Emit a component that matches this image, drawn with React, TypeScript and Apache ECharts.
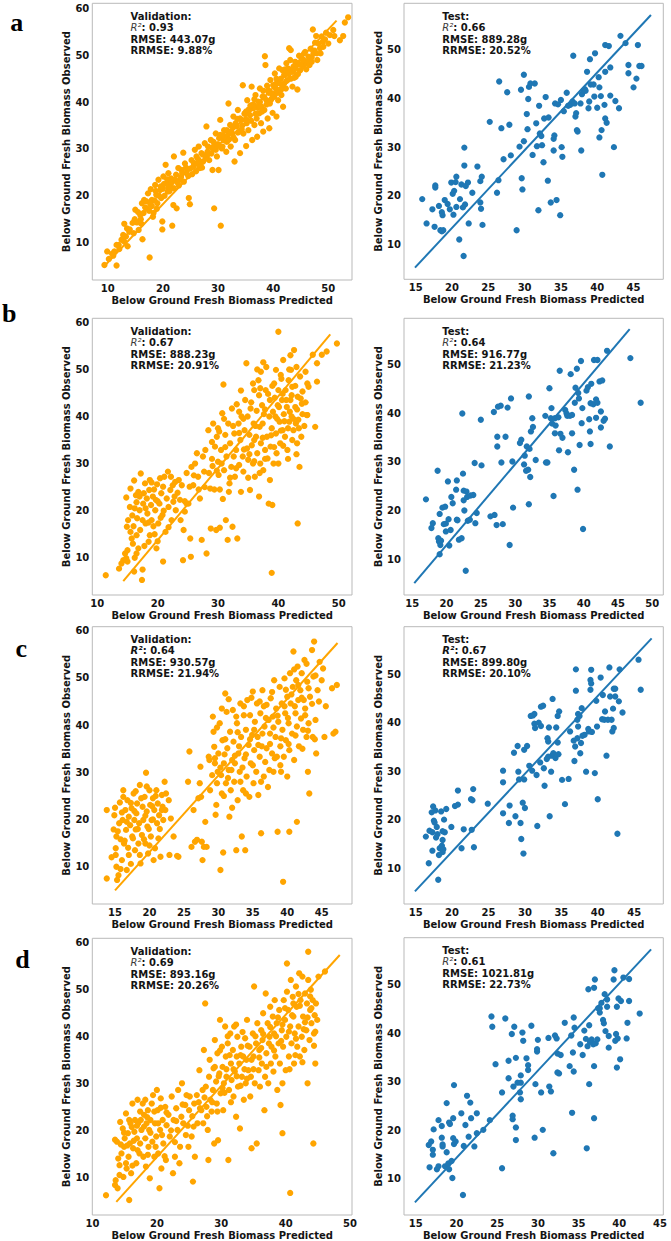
import React, { useEffect, useRef } from 'react';
import * as echarts from 'echarts';

// ---------- DATA ----------
const valA: number[][] = [
  [9.9,8.1],[9.4,5.2],[11.6,5.1],[10.8,7.6],[11.2,8.1],[11.6,9.5],[12.1,8.6],[13.0,14.0],[12.5,10.6],[13.3,11.3],[13.6,9.2],[13.9,12.3],[14.7,12.0],[15.0,17.0],[15.3,14.3],[15.6,12.7],[15.9,15.9],[16.2,18.4],[16.5,16.3],[16.6,19.1],[16.3,10.7],[17.1,17.3],[17.3,20.5],[17.6,6.8],[17.8,21.4],[18.0,19.1],[18.2,15.5],[18.3,16.3],[18.6,22.3],[18.8,20.2],[19.0,18.4],[19.2,23.4],[19.5,21.2],[19.7,19.5],[19.9,12.8],[19.9,14.5],[20.1,24.1],[20.5,26.6],[20.7,22.7],[20.9,20.9],[21.0,24.8],[21.3,22.0],[21.5,23.7],[21.7,13.6],[21.9,18.0],[22.0,28.4],[22.2,23.4],[22.5,17.3],[22.8,25.9],[23.1,23.4],[23.4,25.5],[23.7,29.2],[24.0,26.9],[24.3,24.8],[24.7,19.5],[24.9,18.2],[25.2,27.6],[25.5,26.2],[25.8,29.8],[26.1,28.4],[26.5,30.5],[26.7,25.9],[27.0,29.1],[27.3,27.3],[27.6,31.2],[27.9,34.8],[28.1,29.4],[28.4,27.6],[28.7,31.9],[29.0,25.5],[29.2,30.5],[29.3,17.3],[29.6,33.3],[29.8,28.4],[30.1,25.5],[30.2,32.3],[30.4,36.2],[30.5,13.6],[30.7,30.1],[31.0,31.9],[31.1,34.0],[31.5,29.4],[31.6,31.5],[31.9,39.7],[32.2,35.1],[32.3,30.5],[32.6,33.3],[32.8,36.9],[33.0,27.3],[33.1,31.9],[33.4,34.8],[33.6,38.3],[33.9,33.7],[34.0,29.1],[34.3,36.2],[34.5,43.6],[34.6,33.3],[34.9,37.6],[35.1,30.6],[35.2,35.5],[35.3,40.4],[35.5,34.0],[35.8,37.2],[36.1,43.3],[36.2,31.9],[36.4,38.7],[36.6,35.1],[36.8,41.5],[37.0,36.5],[37.1,32.6],[37.3,40.1],[37.5,37.6],[37.6,42.9],[37.8,35.5],[37.9,39.0],[38.1,41.2],[38.2,33.7],[38.4,38.3],[38.5,49.8],[38.6,47.9],[38.8,40.4],[39.0,36.5],[39.1,42.6],[39.3,34.4],[39.4,39.7],[39.5,44.7],[39.7,41.9],[39.9,37.7],[40.0,43.6],[40.2,41.2],[40.3,46.1],[40.5,42.9],[40.6,36.9],[40.8,44.3],[40.9,40.4],[41.1,47.2],[41.2,42.6],[41.4,45.0],[41.5,41.5],[41.7,46.8],[41.8,39.0],[42.0,44.0],[42.1,45.8],[42.3,42.9],[42.4,48.3],[42.6,44.7],[42.7,47.2],[42.9,51.5],[43.1,49.0],[43.2,51.1],[43.4,46.5],[43.5,43.3],[43.7,47.6],[44.0,48.6],[44.1,45.4],[44.3,47.9],[44.4,42.7],[44.6,48.3],[44.9,46.8],[45.2,49.3],[45.5,47.6],[45.6,50.4],[45.8,48.6],[46.1,48.3],[46.4,49.7],[46.6,47.9],[47.0,48.6],[47.2,55.5],[47.3,50.4],[47.8,54.1],[47.9,50.4],[48.2,52.5],[48.5,51.5],[48.8,54.0],[49.0,52.9],[49.1,51.8],[49.4,53.4],[50.0,52.5],[50.3,54.3],[51.1,54.1],[53.6,58.1],[52.1,53.2],[53.0,57.0],[50.9,55.4],[52.7,54.1],
  [15.5,16.5],[16.0,15.0],[16.8,17.5],[17.0,18.8],[17.5,16.8],[18.0,17.8],[18.5,19.0],[18.9,17.2],[19.3,20.0],[19.6,22.0],[20.0,21.5],[20.3,20.0],[20.8,23.5],[21.2,21.0],[21.6,22.8],[22.0,21.6],[22.4,24.5],[22.9,22.2],[23.3,24.0],[23.8,23.0],[24.2,26.0],[24.6,24.2],[25.0,25.8],[25.6,27.0],[26.0,25.2],[26.4,27.8],[26.9,27.0],[27.2,28.8],[27.8,28.0],[28.2,30.5],[28.8,29.0],[29.2,31.5],[29.6,29.8],[30.0,31.0],[30.4,33.0],[30.8,30.5],[31.2,32.5],[31.6,34.0],[32.0,32.0],[32.4,33.8],[32.8,32.5],[33.2,35.5],[33.6,33.5],[34.0,36.5],[34.4,35.0],[34.8,37.5],[35.2,36.2],[35.6,38.5],[36.0,36.0],[36.4,39.5],[36.8,37.5],[37.2,38.8],[37.6,40.0],[38.0,38.0],[38.4,41.0],[38.8,39.5],[39.2,42.0],[39.6,40.5],[40.0,41.8],[40.4,43.8],[40.8,42.0],[41.2,44.0],[41.6,43.0],[42.0,45.8],[42.4,44.5],[42.8,46.0],[43.2,45.0],[43.6,46.5],[44.0,47.2],[44.5,46.0],[45.0,48.0],[45.5,49.0],[46.0,47.0],[46.5,48.8],[47.0,49.6],[47.5,51.0],[48.0,49.0],[12.0,9.5],[13.0,10.2],[14.0,12.8],[14.5,14.2],[11.0,7.2],[10.2,6.5],
  [20.2,22.5],[21.0,21.8],[22.6,22.9],[23.5,24.8],[24.4,25.5],[25.3,24.6],[26.2,26.8],[27.1,26.0],[28.0,28.6],[28.9,30.2],[29.9,30.6],[30.9,32.9],[31.8,33.0],[32.7,34.6],[33.5,36.4],[34.3,34.2],[35.1,38.0],[35.9,39.3],[36.6,40.6],[37.4,39.1],[38.2,42.4],[38.9,43.5],[39.8,40.8],[40.6,45.0],[41.4,42.6],[42.2,47.0],[43.0,46.9],[43.8,45.2],[44.7,49.9],[45.8,50.7],[46.8,51.4],[47.6,52.7],[48.6,50.4],[49.6,54.8],[17.7,18.3],[18.7,21.0],[16.1,14.0],[14.9,15.0],[13.5,13.0],[12.8,11.6]
];
const testA: number[][] = [
  [15.9,19.3],[16.5,14.3],[17.3,17.2],[17.6,13.6],[17.7,22.1],[17.7,21.7],[18.2,17.9],[18.4,12.9],[18.6,12.7],[18.8,12.9],[18.7,16.0],[18.6,16.6],[19.0,19.1],[19.4,18.3],[19.7,17.2],[19.9,22.7],[20.1,20.4],[20.2,16.1],[20.3,21.0],[20.5,22.8],[20.6,23.9],[20.6,17.7],[21.1,19.3],[21.0,11.0],[21.3,22.3],[21.5,17.6],[21.6,7.6],[21.7,29.9],[21.7,26.2],[21.8,18.2],[21.9,22.0],[22.2,22.7],[22.3,14.3],[22.8,20.6],[23.5,26.0],[23.9,23.0],[23.9,18.6],[24.0,17.3],[24.1,23.9],[24.2,14.0],[25.2,35.2],[26.2,20.6],[26.4,23.2],[26.5,43.5],[26.8,33.9],[27.1,27.5],[27.6,41.3],[27.9,34.6],[28.1,28.3],[28.9,12.9],[29.3,30.1],[29.5,41.8],[29.6,23.6],[29.7,21.3],[29.9,31.2],[29.9,44.9],[30.3,36.8],[30.4,33.7],[30.5,39.9],[30.6,42.4],[30.8,43.1],[31.1,28.4],[31.4,43.1],[31.6,34.9],[31.7,30.2],[31.9,17.0],[32.0,38.5],[32.1,32.8],[32.3,32.3],[32.4,30.4],[32.6,26.9],[32.7,35.9],[32.9,40.3],[33.2,23.1],[33.3,36.1],[33.6,18.6],[34.0,29.3],[34.0,31.7],[34.1,32.4],[34.2,39.0],[34.4,19.1],[34.6,38.8],[34.9,16.0],[35.0,39.7],[35.1,30.0],[35.2,28.0],[35.4,37.4],[35.8,41.2],[36.0,38.5],[36.3,38.7],[36.6,39.4],[36.7,48.8],[36.9,39.0],[37.0,36.3],[37.1,37.0],[37.2,33.5],[37.3,33.2],[37.7,39.0],[37.8,29.3],[37.9,40.9],[38.1,41.6],[38.3,41.9],[38.4,41.6],[38.6,45.5],[38.8,38.0],[38.9,39.4],[39.0,48.1],[39.1,42.9],[39.5,42.9],[39.6,40.4],[39.7,49.3],[40.0,38.1],[40.2,44.4],[40.3,42.3],[40.3,32.0],[40.5,40.5],[40.6,33.5],[40.7,24.3],[41.0,38.7],[41.1,45.5],[41.1,35.9],[41.1,51.0],[41.3,35.0],[41.6,50.8],[41.8,46.4],[41.8,40.6],[42.3,30.0],[42.5,39.5],[43.0,38.0],[43.2,52.9],[43.9,51.4],[44.3,46.9],[44.3,45.2],[45.0,42.3],[45.4,44.1],[45.6,51.0],[45.8,46.7],[46.1,46.7]
];
const valB: number[][] = [
  [11.4,6.3],[13.6,7.7],[14.8,22.8],[14.9,16.6],[15.1,18.0],[15.0,11.6],[14.8,9.9],[15.0,9.2],[15.4,20.8],[15.5,24.7],[15.7,14.1],[15.9,13.0],[16.0,16.7],[16.1,26.4],[16.1,7.1],[16.2,20.5],[16.4,23.3],[16.5,10.9],[16.5,14.8],[16.6,18.4],[16.8,24.0],[17.0,20.1],[17.1,15.9],[17.2,27.9],[17.4,5.3],[17.5,7.5],[17.5,18.0],[17.6,21.5],[17.7,23.7],[17.9,25.8],[18.0,17.3],[18.2,22.6],[18.3,19.4],[18.5,13.4],[18.6,24.4],[18.7,14.8],[18.7,26.5],[18.9,21.2],[19.0,18.0],[19.2,23.0],[19.3,16.7],[19.4,24.5],[19.6,20.1],[19.7,22.3],[19.8,12.0],[19.9,25.6],[20.1,17.3],[20.3,21.5],[20.4,26.9],[20.6,23.7],[20.8,19.1],[20.9,9.2],[20.9,25.1],[21.1,27.2],[21.3,15.5],[21.5,22.6],[21.7,28.3],[21.8,20.8],[22.1,24.4],[22.2,27.2],[22.3,18.0],[22.5,25.4],[22.6,21.9],[22.9,26.1],[23.0,20.1],[23.3,23.8],[23.7,22.3],[24.0,25.4],[24.2,9.5],[24.3,15.9],[24.5,19.8],[24.8,21.5],[25.1,21.5],[25.3,25.1],[25.4,14.1],[25.5,10.2],[25.6,29.3],[25.9,25.4],[26.2,30.0],[26.5,32.2],[26.7,27.2],[27.0,22.6],[27.3,13.8],[27.5,31.5],[27.7,28.3],[27.9,32.9],[28.1,10.9],[28.4,37.1],[28.7,24.7],[28.8,16.2],[29.0,34.6],[29.1,29.5],[29.2,38.5],[29.4,24.5],[29.5,33.6],[29.7,15.9],[29.8,35.7],[30.0,30.4],[30.1,27.6],[30.2,36.8],[30.3,24.5],[30.3,16.4],[30.5,32.9],[30.7,40.7],[30.9,46.8],[31.0,28.6],[31.2,36.1],[31.3,18.0],[31.4,31.5],[31.6,13.8],[31.7,38.5],[31.9,25.8],[32.0,34.3],[32.2,29.3],[32.3,41.7],[32.4,16.6],[32.6,31.5],[32.7,36.4],[32.8,27.2],[33.0,32.9],[33.1,42.6],[33.2,14.1],[33.4,38.5],[33.5,29.7],[33.7,35.0],[33.8,24.0],[33.9,40.0],[34.1,31.5],[34.2,28.3],[34.4,37.1],[34.5,43.5],[34.7,51.3],[34.8,33.2],[34.9,40.0],[35.0,30.8],[35.2,36.1],[35.3,24.4],[35.4,41.7],[35.6,33.9],[35.8,30.0],[35.9,38.5],[36.0,45.6],[36.1,27.2],[36.3,35.7],[36.4,41.2],[36.5,32.2],[36.7,47.7],[36.8,23.0],[36.9,37.8],[37.0,30.0],[37.1,34.3],[37.1,49.5],[37.3,42.4],[37.4,38.5],[37.5,28.6],[37.6,40.5],[37.8,32.9],[37.9,45.6],[38.1,35.7],[38.2,31.1],[38.4,21.5],[38.5,40.0],[38.6,43.5],[38.7,33.6],[38.9,37.5],[39.0,21.2],[38.9,6.8],[39.2,30.0],[39.3,47.0],[39.5,40.0],[39.6,36.4],[39.6,49.9],[39.7,32.2],[39.9,42.4],[40.0,45.6],[40.2,38.9],[40.3,34.3],[40.4,48.8],[40.6,43.5],[40.7,37.1],[40.8,52.0],[40.9,40.5],[41.1,35.7],[41.2,45.6],[41.4,42.0],[41.5,32.9],[41.7,47.7],[41.8,38.9],[42.0,43.5],[42.1,49.9],[42.2,40.0],[42.3,46.3],[42.5,37.1],[42.6,54.1],[42.8,42.0],[42.9,38.5],[43.1,34.3],[43.2,44.2],[43.2,17.3],[43.3,39.3],[43.5,29.3],[43.6,48.5],[43.8,35.7],[43.9,42.7],[44.0,45.3],[44.7,40.3],[45.0,46.3],[40.0,58.0],[44.8,47.0],[44.8,40.3],[45.7,53.1],[46.4,47.4],[47.2,53.1],[46.4,51.3],[48.0,53.8],[46.1,37.8],[16.2,10.0],[14.3,9.5],[14.0,8.8],[14.6,10.9],[49.7,55.5],
  [33.5,36.5],[34.2,39.5],[35.5,43.0],[36.2,38.0],[36.8,44.5],[37.4,35.5],[37.8,41.5],[38.3,44.8],[38.8,36.0],[39.1,41.0],[39.4,44.0],[39.8,39.5],[40.1,42.0],[40.4,37.0],[40.7,44.8],[41.0,39.0],[41.3,43.5],[41.6,37.5],[41.9,41.0],[42.2,44.5],[42.5,39.5],[42.8,46.5],[43.1,41.5],[43.4,37.5],[43.7,43.8],[44.0,40.5],[44.3,38.0],[44.5,43.0],[35.0,27.0],[36.0,30.5],[36.9,28.0],[37.8,31.0],[38.6,26.5],[39.3,33.5],[40.0,30.0],[40.8,33.8],[41.6,31.0],[42.3,35.0],[43.0,32.0],[33.0,29.0],[32.0,27.0],[31.2,33.5],[30.6,30.0],[29.8,28.5],[29.0,31.0],[30.0,37.5],[31.0,39.5],[32.5,38.0],[33.5,41.0],[34.3,33.0],[35.2,32.0],[36.0,35.0],[31.8,24.0],[30.8,22.5],[27.8,25.0],[28.5,28.0],[26.0,27.5],[24.5,22.0],[23.5,26.5],[21.0,20.0],[20.0,22.0],[19.0,26.0],[18.0,20.5],[17.0,23.0],[16.5,21.8],[15.8,19.0],[19.5,15.0],[20.5,18.5],[21.8,16.5],[22.8,23.0],[18.5,17.5],[17.8,12.5],[16.8,12.0],[15.5,15.5],[20.0,13.5],[23.8,18.0],[24.8,28.0],[26.8,24.5],[39.0,46.5],[40.5,48.0],[37.0,46.0],[35.8,47.0],[38.0,50.5],[41.8,50.0],[43.0,50.5],[44.5,49.5],[42.0,53.0],[36.5,50.0],[33.8,45.5],[37.5,51.5]
];
const testB: number[][] = [
  [17.0,22.3],[17.8,16.4],[18.0,17.4],[18.7,28.2],[18.8,14.3],[18.9,13.6],[19.0,19.3],[19.1,12.9],[19.0,11.0],[19.2,13.8],[19.4,20.6],[19.6,17.2],[19.8,20.8],[19.9,15.7],[19.9,17.3],[20.2,26.0],[20.3,18.2],[20.4,12.8],[20.6,16.0],[20.7,22.8],[20.9,21.5],[21.4,24.3],[21.5,26.2],[21.5,18.1],[21.6,18.0],[21.8,14.0],[22.2,14.3],[22.3,40.0],[22.4,27.6],[22.5,24.1],[22.5,22.1],[22.6,20.0],[22.8,7.6],[22.9,23.9],[23.0,22.8],[23.1,17.9],[23.4,18.1],[23.5,23.1],[23.9,23.2],[24.1,29.8],[24.2,17.4],[24.4,19.5],[25.0,38.7],[25.1,29.3],[26.4,18.8],[26.9,40.3],[27.0,19.1],[27.3,17.0],[27.4,35.2],[27.4,33.2],[27.5,41.4],[27.9,41.6],[28.0,29.9],[28.2,17.2],[28.6,35.2],[28.9,41.2],[29.2,12.9],[29.4,43.1],[29.6,30.1],[29.7,20.6],[30.7,33.9],[30.9,34.6],[31.3,29.5],[31.4,31.3],[31.6,28.2],[31.7,33.2],[31.9,28.4],[32.0,43.5],[32.0,21.3],[32.1,32.7],[32.2,26.9],[32.3,36.3],[32.5,39.0],[32.6,37.2],[33.0,30.4],[34.4,39.5],[34.5,29.9],[34.7,29.9],[35.0,45.2],[35.2,39.0],[35.3,41.1],[35.4,37.9],[35.6,23.0],[35.8,39.0],[35.8,35.9],[35.9,37.5],[36.3,39.2],[36.4,32.4],[36.5,48.8],[36.6,35.8],[36.9,35.0],[37.3,40.7],[37.5,40.0],[37.6,39.5],[37.7,32.0],[38.0,39.5],[38.1,48.1],[38.3,39.7],[38.3,35.9],[38.6,28.4],[38.7,42.2],[38.8,45.3],[39.0,49.2],[39.1,24.3],[39.2,44.2],[39.3,43.1],[39.4,33.5],[39.6,50.8],[39.7,38.0],[39.8,41.1],[39.9,16.2],[40.4,44.7],[40.6,45.4],[40.8,38.8],[40.9,36.3],[41.0,33.7],[41.0,42.1],[41.1,46.1],[41.4,41.9],[41.5,51.0],[41.8,39.1],[41.8,42.9],[42.0,51.0],[42.0,42.2],[42.3,46.6],[42.5,40.4],[42.5,37.1],[42.7,46.8],[42.9,38.5],[43.1,38.9],[43.4,52.9],[43.8,33.2],[46.8,51.4],[48.3,42.2]
];
const valC: number[][] = [
  [13.8,22.0],[13.8,7.5],[14.8,17.9],[14.9,20.9],[15.1,13.9],[15.1,12.5],[15.2,16.4],[15.2,10.0],[15.3,7.2],[15.5,8.2],[15.6,19.2],[15.7,23.6],[15.8,15.8],[16.0,11.4],[16.1,19.9],[16.2,26.2],[16.3,14.9],[16.5,22.0],[16.6,17.8],[16.7,9.3],[16.8,24.1],[16.9,14.0],[17.0,20.6],[17.2,18.8],[17.3,10.6],[17.4,22.4],[17.5,16.4],[17.7,25.5],[17.8,19.9],[17.9,13.5],[18.0,17.9],[18.1,21.3],[18.2,23.4],[18.4,14.9],[18.5,19.2],[18.6,27.3],[18.7,10.7],[18.9,16.7],[19.0,22.7],[19.1,19.9],[19.3,24.8],[19.4,14.9],[19.5,29.9],[19.6,21.7],[19.7,18.5],[19.8,12.8],[20.0,26.2],[20.1,23.1],[20.2,16.4],[20.3,19.9],[20.5,24.5],[20.6,11.4],[20.7,22.0],[20.8,13.9],[21.0,26.2],[21.1,19.2],[21.2,23.4],[21.3,16.0],[21.4,20.9],[21.6,12.1],[21.8,25.2],[21.9,22.7],[22.0,19.9],[22.2,28.0],[22.3,22.0],[22.4,25.5],[22.8,24.1],[22.9,12.5],[23.1,20.2],[23.5,16.4],[24.0,12.3],[24.2,12.1],[25.6,28.0],[25.8,34.4],[26.1,14.2],[26.4,22.0],[26.6,15.3],[26.9,15.7],[27.1,24.5],[27.3,27.7],[27.4,31.2],[27.5,24.8],[27.6,15.3],[27.7,11.4],[27.9,14.2],[28.1,19.5],[28.3,14.2],[28.6,33.3],[28.7,32.6],[28.8,26.2],[29.1,29.4],[29.2,41.8],[29.3,38.6],[29.4,35.4],[29.5,31.9],[29.7,23.1],[29.8,27.7],[29.9,30.1],[30.0,34.0],[30.2,40.4],[30.3,9.3],[30.4,29.4],[30.5,25.5],[30.6,36.8],[30.7,13.0],[30.8,31.9],[31.0,46.7],[31.1,27.7],[31.2,42.8],[31.3,35.1],[31.5,30.5],[31.6,20.6],[31.7,38.6],[31.8,26.2],[32.0,32.6],[32.1,43.2],[32.2,36.5],[32.3,28.0],[32.4,31.9],[32.6,13.5],[32.7,40.4],[32.8,24.1],[32.9,34.0],[33.1,30.1],[33.2,44.6],[33.3,37.5],[33.4,16.4],[33.6,26.2],[33.7,42.1],[33.8,33.0],[33.9,13.5],[34.0,39.0],[34.1,29.1],[34.2,45.3],[34.4,35.8],[34.5,24.8],[34.6,42.1],[34.7,31.9],[34.9,37.9],[35.0,47.1],[35.1,27.7],[35.2,34.7],[35.3,40.7],[35.5,30.1],[35.6,44.6],[35.7,37.5],[35.8,25.2],[36.0,33.3],[36.1,42.5],[36.2,17.1],[36.3,35.5],[36.4,47.4],[36.6,29.1],[36.7,39.7],[36.8,32.2],[37.0,44.3],[37.0,35.1],[37.2,26.9],[37.3,41.1],[37.4,30.5],[37.5,38.2],[37.6,45.7],[37.8,34.0],[37.9,41.8],[38.0,30.1],[38.1,49.5],[38.3,37.5],[38.4,43.5],[38.5,33.3],[38.6,17.4],[38.7,40.7],[38.9,48.1],[39.0,35.5],[39.1,30.1],[39.2,44.6],[39.3,39.0],[39.4,6.8],[39.5,33.3],[39.6,49.9],[39.7,42.5],[39.8,36.8],[40.0,46.0],[40.0,29.1],[40.2,40.4],[40.3,17.4],[40.3,34.7],[40.4,51.0],[40.5,44.6],[40.7,38.2],[40.8,48.1],[40.9,55.6],[41.0,32.6],[41.2,42.5],[41.3,49.5],[41.4,19.5],[41.4,39.7],[41.5,52.4],[41.6,45.3],[41.7,35.5],[41.9,47.4],[42.0,41.4],[42.1,51.0],[42.3,39.0],[42.4,45.3],[42.5,53.8],[42.6,42.1],[42.8,37.5],[42.9,49.2],[43.0,30.1],[43.1,40.4],[43.2,25.5],[43.3,46.0],[43.6,55.9],[43.7,37.5],[43.8,50.3],[43.9,57.7],[44.1,41.1],[44.2,34.0],[44.4,47.4],[44.7,53.4],[45.0,49.5],[45.4,37.5],[46.5,47.8],[46.7,38.2],[47.2,48.5],[47.0,38.6],
  [29.5,33.0],[30.3,31.0],[30.9,33.8],[31.4,28.8],[31.9,30.5],[32.4,33.5],[33.0,35.5],[33.5,31.0],[34.0,33.8],[34.6,37.0],[35.2,39.0],[35.8,35.8],[36.4,38.2],[36.9,41.5],[37.5,36.0],[38.0,39.5],[38.6,42.0],[39.1,37.2],[39.6,44.0],[40.1,41.5],[40.6,46.5],[41.1,44.0],[41.6,48.5],[42.1,45.8],[42.6,43.5],[43.1,47.8],[43.6,44.5],[44.1,50.5],[44.6,45.0],[45.2,52.0],[38.2,33.0],[39.0,31.5],[40.2,36.0],[41.2,37.8],[42.2,35.0],[36.2,28.0],[35.0,31.5],[34.0,25.5],[33.2,28.0],[32.0,22.5],[30.8,25.0],[29.6,21.0],[31.5,45.5],[32.6,41.8],[33.7,44.0],[34.8,45.8],[36.0,45.0],[30.5,43.5],[29.8,39.5],[31.0,37.0],[32.8,38.5],[16.0,21.5],[16.7,19.5],[17.3,23.5],[17.8,21.8],[18.3,18.0],[18.8,24.5],[19.4,20.8],[19.9,18.0],[20.4,22.8],[20.9,25.0],[21.5,18.0],[15.4,17.5],[16.4,15.5],[17.6,16.0],[18.6,12.5],[19.2,15.8],[20.0,14.5],[15.0,22.5],[14.5,12.0],[15.8,9.5],[17.0,12.5],[21.8,22.0],[16.2,24.8],[18.0,26.0],[19.6,27.0],[20.5,20.0],[42.8,53.0],[41.0,51.8],[39.8,47.5],[37.8,47.0],[36.6,44.0],[44.0,37.0],[45.6,44.0],[43.0,38.8]
];
const testC: number[][] = [
  [16.4,16.5],[16.8,11.0],[16.9,17.7],[17.2,21.5],[17.3,13.6],[17.3,17.4],[17.4,22.7],[17.5,19.8],[17.6,19.4],[17.7,21.9],[17.8,16.3],[17.9,18.5],[18.0,17.0],[18.1,7.6],[18.2,12.7],[18.3,14.1],[18.5,21.7],[18.6,14.6],[18.7,17.6],[18.7,15.8],[18.7,13.3],[18.8,13.9],[18.9,20.0],[19.0,17.4],[19.2,22.2],[19.9,18.5],[20.4,22.8],[20.8,23.1],[20.8,26.0],[21.3,14.1],[21.6,18.0],[22.6,24.2],[22.7,17.9],[22.8,24.0],[22.9,26.3],[23.0,14.3],[24.9,23.3],[27.0,27.7],[27.0,30.1],[27.0,21.3],[27.8,19.3],[27.9,22.9],[28.5,33.8],[28.7,20.7],[29.0,35.2],[29.1,29.9],[29.2,28.3],[29.4,19.3],[29.5,16.0],[29.7,23.5],[29.8,13.0],[29.9,34.4],[29.9,28.3],[30.0,22.4],[30.3,35.2],[30.6,31.1],[30.8,41.4],[31.0,30.1],[31.1,41.5],[31.3,41.8],[31.3,39.8],[31.4,38.9],[31.6,29.2],[31.7,18.7],[31.9,40.0],[32.1,31.8],[32.2,39.3],[32.2,43.3],[32.5,43.5],[32.6,30.6],[32.7,27.0],[33.0,32.5],[33.1,36.8],[33.2,36.1],[33.2,33.0],[33.3,39.0],[33.4,20.7],[33.6,29.9],[33.7,33.2],[33.8,44.9],[33.9,33.7],[34.2,32.7],[34.3,39.0],[34.5,41.4],[34.5,35.9],[34.6,33.5],[34.7,42.3],[35.1,28.2],[35.5,23.2],[36.0,28.4],[36.2,38.2],[36.7,36.3],[36.8,32.1],[36.9,35.1],[37.0,46.6],[37.0,51.0],[37.2,36.8],[37.2,40.6],[37.3,41.8],[37.3,39.2],[37.5,41.4],[37.6,33.7],[37.7,35.8],[37.8,43.0],[37.9,37.3],[38.2,37.5],[38.4,29.9],[38.7,38.7],[38.8,38.2],[39.0,46.8],[39.0,48.8],[39.1,50.9],[39.1,48.1],[39.2,38.1],[39.6,29.6],[39.8,44.5],[39.9,39.2],[40.0,24.2],[40.4,49.3],[40.6,40.7],[40.7,45.7],[40.9,40.6],[41.0,42.3],[41.2,33.2],[41.4,40.6],[41.6,51.4],[41.7,45.4],[41.9,40.6],[42.0,38.2],[42.1,42.9],[42.2,38.9],[42.2,47.0],[42.4,47.0],[42.4,45.4],[42.7,17.1],[42.9,44.4],[43.0,51.0],[43.4,42.1],[45.6,53.0],[45.9,46.8]
];
const valD: number[][] = [
  [12.1,6.2],[13.5,18.0],[13.8,17.6],[13.5,8.4],[13.9,7.7],[13.6,9.4],[14.0,14.0],[14.2,12.6],[14.3,21.8],[15.7,5.2],[14.5,15.1],[14.7,20.4],[14.8,10.1],[14.9,16.5],[15.0,18.3],[15.2,23.6],[15.3,11.9],[15.5,19.4],[15.6,14.4],[15.7,22.2],[15.8,17.2],[16.0,10.9],[16.1,20.7],[16.2,25.7],[16.3,16.2],[16.5,19.7],[16.6,22.2],[16.8,13.0],[16.9,18.3],[17.0,26.5],[17.1,21.5],[17.3,15.1],[17.4,17.2],[17.5,22.2],[17.6,20.1],[17.8,25.7],[17.9,14.4],[18.0,23.3],[18.2,18.3],[18.3,12.3],[18.4,21.5],[18.6,24.3],[18.7,16.5],[18.8,20.1],[18.9,9.8],[19.0,22.2],[19.2,25.7],[19.3,17.6],[19.4,27.5],[19.6,14.4],[19.7,21.5],[19.9,18.7],[20.0,28.6],[20.1,24.3],[20.2,15.1],[20.4,7.7],[20.5,20.1],[20.6,26.8],[20.7,11.9],[20.9,22.2],[21.0,17.2],[21.3,25.0],[21.4,13.7],[21.5,21.1],[21.8,23.3],[22.0,18.7],[22.3,27.2],[22.5,10.9],[22.6,22.2],[22.8,14.4],[23.0,24.7],[23.2,20.1],[23.3,28.6],[23.6,16.5],[23.8,22.9],[23.9,30.0],[24.1,21.5],[24.4,25.4],[24.6,27.5],[24.9,16.5],[25.0,24.3],[25.1,27.2],[25.4,18.7],[25.6,9.1],[25.7,20.8],[25.8,25.7],[25.9,14.4],[26.2,27.5],[26.3,21.5],[26.6,32.8],[26.7,24.7],[26.9,24.3],[27.1,28.6],[27.2,21.5],[27.3,37.1],[27.5,47.0],[27.6,29.3],[27.7,25.0],[27.9,20.1],[28.0,13.7],[28.1,31.4],[28.2,35.0],[28.3,26.5],[28.5,24.0],[28.7,28.6],[28.8,33.2],[28.9,17.2],[29.0,39.2],[29.2,30.4],[29.3,25.7],[29.4,36.4],[29.5,17.9],[29.7,32.1],[29.8,43.5],[29.9,27.9],[30.1,37.8],[30.2,33.5],[30.3,24.3],[30.4,30.0],[30.6,42.1],[30.7,35.7],[30.8,31.4],[31.0,38.5],[31.1,13.7],[31.2,28.6],[31.4,40.6],[31.5,34.2],[31.6,30.7],[31.8,37.1],[31.9,27.2],[32.0,42.1],[32.1,32.5],[32.3,22.9],[32.4,35.7],[32.5,39.9],[32.6,29.3],[32.8,34.2],[32.9,20.4],[33.1,37.8],[33.2,31.4],[33.3,40.9],[33.4,35.7],[33.5,26.5],[33.7,39.6],[33.8,30.0],[33.9,35.0],[34.0,43.5],[34.2,32.8],[34.4,37.8],[34.5,27.2],[34.6,31.4],[34.7,16.2],[34.9,40.6],[35.0,35.7],[35.1,50.6],[35.2,30.0],[35.4,38.5],[35.5,17.2],[35.6,42.8],[35.8,32.8],[35.9,37.1],[36.0,29.3],[36.2,41.3],[36.3,34.2],[36.4,39.2],[36.5,44.9],[36.7,24.3],[36.8,31.4],[36.9,49.1],[37.0,36.4],[37.2,42.8],[37.3,30.0],[37.5,39.9],[37.6,46.3],[37.7,34.2],[37.8,37.8],[38.0,44.2],[38.1,32.5],[38.2,40.6],[38.3,47.7],[38.4,35.7],[38.6,42.8],[38.7,28.6],[38.9,38.5],[39.0,45.6],[39.1,34.2],[39.2,25.4],[39.4,41.3],[39.5,19.4],[39.6,37.8],[39.7,47.7],[39.9,43.5],[40.0,32.8],[40.1,39.9],[40.2,55.5],[40.4,45.6],[40.5,35.7],[40.7,6.7],[40.7,42.1],[40.8,52.0],[40.9,38.5],[41.1,48.4],[41.2,44.2],[41.3,34.2],[41.4,40.6],[41.6,50.6],[41.7,46.3],[41.8,37.8],[42.0,42.1],[42.1,53.4],[42.2,35.7],[42.3,47.7],[42.5,39.9],[42.6,52.7],[42.7,44.2],[42.9,37.1],[43.0,49.1],[43.2,41.3],[43.3,47.0],[43.4,30.0],[43.5,58.0],[43.5,52.0],[43.7,39.2],[43.8,45.6],[43.9,49.9],[44.0,42.8],[44.2,47.7],[44.3,17.2],[44.4,40.6],[44.6,34.2],[44.7,47.0],[44.9,43.5],[45.1,52.7],[46.1,53.8],[44.6,41.0],
  [29.6,31.5],[30.2,29.0],[30.8,33.0],[31.3,36.0],[31.9,33.0],[32.4,31.5],[33.0,36.0],[33.6,33.0],[34.1,38.0],[34.7,35.0],[35.3,40.0],[35.9,35.5],[36.5,40.5],[37.0,33.5],[37.6,42.0],[38.2,37.0],[38.8,44.0],[39.3,39.0],[39.9,46.0],[40.5,41.0],[41.0,44.5],[41.6,39.5],[42.2,46.5],[42.8,41.5],[43.4,44.0],[44.0,46.0],[44.5,44.5],[43.0,43.0],[42.0,49.0],[41.2,47.0],[40.2,49.5],[39.5,42.5],[38.5,40.0],[37.4,38.5],[36.2,37.5],[35.0,33.0],[34.0,31.0],[33.0,29.5],[31.5,26.0],[30.5,28.0],[29.4,24.0],[28.6,26.0],[27.8,23.0],[29.0,33.5],[29.8,37.0],[31.0,40.0],[32.3,42.5],[27.4,27.0],[26.5,26.0],[25.5,23.0],[24.8,21.0],[24.0,25.5],[23.0,22.0],[22.2,20.0],[21.5,23.8],[20.8,19.0],[20.2,21.5],[19.6,24.0],[19.0,19.5],[18.5,22.8],[18.0,20.8],[17.4,24.0],[16.9,21.0],[16.4,17.8],[15.9,21.5],[15.4,16.8],[14.9,19.5],[14.4,17.0],[17.0,15.8],[18.6,14.8],[19.8,16.5],[21.2,14.5],[22.8,17.5],[16.2,12.5],[15.2,13.0],[14.2,10.5],[23.5,13.0],[24.5,19.0],[20.6,24.8],[18.2,26.5],[43.8,48.5],[44.4,38.0],[42.6,34.5],[41.5,36.0],[40.6,33.0],[39.5,30.0]
];
const testD: number[][] = [
  [16.6,17.0],[16.7,12.4],[16.9,17.7],[17.1,16.0],[17.1,15.0],[17.2,20.2],[17.6,12.0],[17.8,12.6],[17.8,22.1],[18.2,20.9],[18.2,18.5],[18.3,16.7],[18.3,17.1],[18.6,12.6],[18.8,25.6],[18.8,15.5],[19.0,13.2],[19.1,21.6],[19.1,12.0],[19.2,21.3],[19.4,13.7],[19.5,10.2],[19.6,18.4],[19.6,22.5],[19.7,29.3],[19.7,17.2],[19.9,17.7],[20.6,23.5],[20.8,6.7],[20.9,16.8],[21.1,21.1],[21.3,27.1],[21.5,18.7],[21.7,25.7],[21.8,22.5],[22.2,16.7],[22.5,23.5],[22.5,19.4],[23.3,20.1],[24.1,22.1],[24.3,43.4],[24.4,41.3],[24.8,33.6],[25.6,27.8],[25.6,12.2],[26.0,43.0],[26.4,34.3],[26.4,30.7],[26.8,39.8],[26.9,23.0],[26.9,22.3],[27.0,29.0],[27.1,41.3],[27.3,34.9],[27.3,20.6],[27.3,18.0],[27.5,29.8],[27.8,27.8],[27.9,31.3],[27.9,29.8],[27.9,26.4],[28.1,40.1],[28.2,38.4],[28.6,34.8],[28.8,33.4],[28.8,32.4],[29.2,41.5],[29.6,18.5],[29.7,29.5],[29.9,36.2],[29.9,36.7],[30.0,38.6],[30.4,27.8],[30.6,20.1],[31.3,39.0],[31.4,29.0],[31.6,28.0],[31.9,15.3],[32.1,39.5],[32.3,38.9],[32.4,35.8],[32.4,31.9],[32.6,31.7],[32.8,35.5],[33.3,42.1],[33.9,33.2],[34.1,39.5],[34.2,23.6],[34.3,36.0],[34.4,43.2],[34.4,32.1],[34.5,41.1],[35.2,37.7],[35.5,35.5],[35.7,40.5],[35.9,38.8],[36.0,16.3],[36.1,37.3],[36.2,49.0],[36.3,29.5],[36.3,41.6],[36.4,38.2],[36.6,38.7],[36.8,37.7],[36.9,33.2],[36.9,49.3],[36.9,22.5],[37.0,51.0],[37.1,37.9],[37.3,38.7],[37.4,45.1],[37.6,44.2],[37.6,45.1],[37.8,46.2],[38.0,42.7],[38.1,42.0],[38.2,48.0],[38.3,40.4],[38.5,45.4],[38.5,46.9],[38.7,39.4],[38.7,37.0],[39.3,51.0],[39.4,52.9],[39.5,38.4],[39.6,39.8],[39.7,45.4],[39.7,32.9],[39.8,38.9],[39.9,47.1],[40.1,34.6],[40.2,46.6],[40.5,51.4],[40.9,38.9],[41.0,42.1],[41.2,46.6],[41.2,51.1],[42.5,44.0]
];

// regression line end points
const lineValA = [[9.4, 5.0], [51.5, 57.4]];
const lineTestA = [[14.9, 5.2], [47.4, 57.2]];
const lineValB = [[14.3, 5.05], [48.6, 57.45]];
const lineTestB = [[15.3, 5.06], [46.7, 57.35]];
const lineValC = [[15.0, 5.0], [47.3, 57.4]];
const lineTestC = [[14.9, 5.2], [47.4, 57.4]];
const lineValD = [[13.7, 4.8], [48.4, 57.3]];
const lineTestD = [[14.9, 5.2], [43.9, 57.2]];

// statistics printed in each panel
const statsValA = ['0.93', '443.07g', '9.88%'];
const statsTestA = ['0.66', '889.28g', '20.52%'];
const statsValB = ['0.67', '888.23g', '20.91%'];
const statsTestB = ['0.64', '916.77g', '21.23%'];
const statsValC = ['0.64', '930.57g', '21.94%'];
const statsTestC = ['0.67', '899.80g', '20.10%'];
const statsValD = ['0.69', '893.16g', '20.26%'];
const statsTestD = ['0.61', '1021.81g', '22.73%'];

// tick labels
const ticks10to50 = [10, 20, 30, 40, 50];
const ticks10to60 = [10, 20, 30, 40, 50, 60];
const ticks15to45 = [15, 20, 25, 30, 35, 40, 45];
const ticks15to50 = [15, 20, 25, 30, 35, 40, 45, 50];
const panelLetters = ['a', 'b', 'c', 'd'];

const X_NAME = 'Below Ground Fresh Biomass Predicted';
const Y_NAME = 'Below Ground Fresh Biomass Observed';

// ---------- LAYOUT / STYLE ----------
const ORANGE = '#FFA500';
const BLUE = '#1f77b4';
const FONT = 'DejaVu Sans';
const TXT = '#141414';

const panels = [
  { pts: valA, line: lineValA, color: ORANGE, box: [92.3, 3.3, 259.7, 276.7], xr: [7.2, 54.3], yr: [2.0, 61.1], xt: ticks10to50, yt: ticks10to60, head: 'Validation:', stats: statsValA, boldR: false },
  { pts: testA, line: lineTestA, color: BLUE, box: [404, 3.3, 259.3, 276.0], xr: [13.39, 49.1], yr: [2.8, 59.6], xt: ticks15to45, yt: ticks10to50, head: 'Test:', stats: statsTestA, boldR: false },
  { pts: valB, line: lineValB, color: ORANGE, box: [92.3, 318.3, 259.7, 276.7], xr: [9.17, 52.2], yr: [2.1, 60.85], xt: ticks10to50, yt: ticks10to60, head: 'Validation:', stats: statsValB, boldR: false },
  { pts: testB, line: lineTestB, color: BLUE, box: [404, 318.3, 259.3, 276.7], xr: [13.8, 51.6], yr: [2.6, 59.6], xt: ticks15to50, yt: ticks10to50, head: 'Test:', stats: statsTestB, boldR: false },
  { pts: valC, line: lineValC, color: ORANGE, box: [92.3, 626.7, 259.7, 277.3], xr: [11.7, 49.4], yr: [2.1, 60.85], xt: ticks15to45, yt: ticks10to60, head: 'Validation:', stats: statsValC, boldR: true },
  { pts: testC, line: lineTestC, color: BLUE, box: [404, 626.7, 259.3, 277.3], xr: [13.4, 49.0], yr: [2.6, 59.8], xt: ticks15to45, yt: ticks10to50, head: 'Test:', stats: statsTestC, boldR: true },
  { pts: valD, line: lineValD, color: ORANGE, box: [92.3, 938.3, 259.7, 276.7], xr: [9.97, 50.3], yr: [2.0, 60.85], xt: ticks10to50, yt: ticks10to60, head: 'Validation:', stats: statsValD, boldR: false },
  { pts: testD, line: lineTestD, color: BLUE, box: [404, 937.7, 259.3, 277.3], xr: [13.56, 45.4], yr: [2.6, 59.6], xt: ticks15to45, yt: ticks10to50, head: 'Test:', stats: statsTestD, boldR: false },
];

const letterPos = [[16.7, 22], [9.2, 313.5], [21.3, 648.5], [22.5, 959]];

function buildOption() {
  const grid: any[] = [];
  const xAxis: any[] = [];
  const yAxis: any[] = [];
  const series: any[] = [];
  const graphic: any[] = [];
  const labelStyle = { fontFamily: FONT, fontWeight: 'bold', fontSize: 10, color: TXT };

  panels.forEach((p, i) => {
    const [l, t, w, h] = p.box;
    grid.push({ left: l, top: t, width: w, height: h, show: true, borderColor: '#b9b9b9', borderWidth: 1, backgroundColor: 'transparent', containLabel: false });
    xAxis.push({
      type: 'value', gridIndex: i, min: p.xr[0], max: p.xr[1],
      name: X_NAME, nameLocation: 'middle', nameGap: 15,
      nameTextStyle: { ...labelStyle },
      axisLine: { show: false }, axisTick: { show: false, customValues: p.xt },
      splitLine: { show: false },
      axisLabel: { ...labelStyle, margin: 3, customValues: p.xt, showMinLabel: true, showMaxLabel: true },
    });
    yAxis.push({
      type: 'value', gridIndex: i, min: p.yr[0], max: p.yr[1],
      name: Y_NAME, nameLocation: 'middle', nameGap: 20, nameRotate: 90,
      nameTextStyle: { ...labelStyle },
      axisLine: { show: false }, axisTick: { show: false, customValues: p.yt },
      splitLine: { show: false },
      axisLabel: { ...labelStyle, margin: 3, customValues: p.yt },
    });
    series.push({
      type: 'scatter', xAxisIndex: i, yAxisIndex: i, data: p.pts,
      symbolSize: 6.3, itemStyle: { color: p.color, opacity: 1 }, silent: true,
    });
    series.push({
      type: 'line', xAxisIndex: i, yAxisIndex: i, data: p.line,
      symbol: 'none', lineStyle: { color: p.color, width: 2 }, silent: true, z: 3,
    });
    const rStyle = p.boldR
      ? { fontFamily: FONT, fontStyle: 'italic', fontWeight: 'bold', fontSize: 10, fill: TXT, lineHeight: 11.5 }
      : { fontFamily: FONT, fontStyle: 'italic', fontWeight: 'normal', fontSize: 10, fill: '#3a3a3a', lineHeight: 11.5 };
    graphic.push({
      type: 'text', x: l + 38.3, y: t + 7, silent: true,
      style: {
        text: `{h|${p.head}}\n{r|R²}{h|: ${p.stats[0]}}\n{h|RMSE: ${p.stats[1]}}\n{h|RRMSE: ${p.stats[2]}}`,
        align: 'left', verticalAlign: 'top',
        rich: {
          h: { fontFamily: FONT, fontWeight: 'bold', fontSize: 10, fill: TXT, lineHeight: 11.5 },
          r: rStyle,
        },
      },
    });
  });

  panelLetters.forEach((ch, i) => {
    graphic.push({
      type: 'text', x: letterPos[i][0], y: letterPos[i][1], silent: true,
      style: { text: ch, font: 'bold 26px "Liberation Serif"', fill: '#000', align: 'center', verticalAlign: 'middle' },
    });
  });

  return { animation: false, backgroundColor: '#ffffff', grid, xAxis, yAxis, series, graphic };
}

export default function App() {
  const ref = useRef<HTMLDivElement>(null);
  useEffect(() => {
    if (!ref.current) return;
    const chart = echarts.init(ref.current, undefined, { renderer: 'svg' });
    chart.setOption(buildOption() as any);
    return () => chart.dispose();
  }, []);
  return (
    <div
      ref={ref}
      style={{ position: 'absolute', left: 0, top: 0, width: 671, height: 1241, background: '#fff' }}
    />
  );
}
